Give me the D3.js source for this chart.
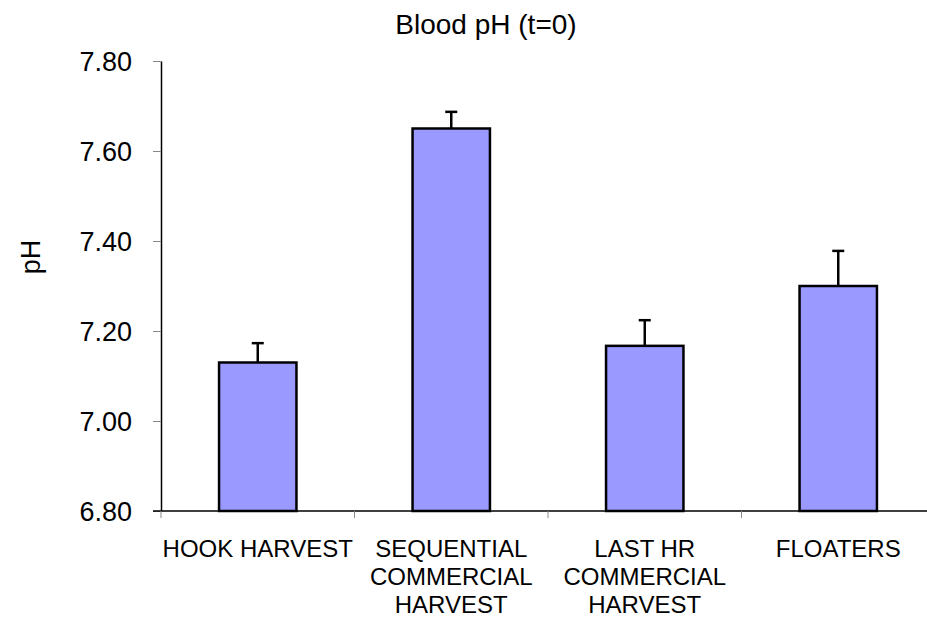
<!DOCTYPE html>
<html>
<head>
<meta charset="utf-8">
<script src="https://cdn.jsdelivr.net/npm/d3@7"></script>
<style>
  body { margin: 0; background: #fff; }
  text { font-family: "Liberation Sans", Arial, sans-serif; fill: #000; }
</style>
</head>
<body>
<div id="chart"></div>
<script>
const categories = ["HOOK HARVEST", "SEQUENTIAL COMMERCIAL HARVEST", "LAST HR COMMERCIAL HARVEST", "FLOATERS"];
const labelLines = [["HOOK HARVEST"], ["SEQUENTIAL", "COMMERCIAL", "HARVEST"], ["LAST HR", "COMMERCIAL", "HARVEST"], ["FLOATERS"]];
const phValues = [7.13, 7.65, 7.167, 7.30];
const phErrors = [0.043, 0.037, 0.057, 0.078];
const yTicks = [6.8, 7.0, 7.2, 7.4, 7.6, 7.8];

const width = 927, height = 619;
const margin = ({top: 61, right: -8, bottom: 108, left: 161});

const svg = d3.select("#chart")
              .append("svg")
              .attr("width", width)
              .attr("height", height);

const xScale = d3.scaleBand()
                 .domain(categories)
                 .range([margin.left, width - margin.right])
                 .paddingInner(0.6)
                 .paddingOuter(0.3);
const yScale = d3.scaleLinear()
                 .domain([6.8, 7.8])
                 .range([height - margin.bottom, margin.top]);

const data = categories.map((c, i) => ({cat: c, value: phValues[i], err: phErrors[i], lines: labelLines[i]}));

// y axis
const drawY = svg.append("g")
                 .attr("transform", `translate(${margin.left},0)`)
                 .call(d3.axisLeft(yScale)
                         .tickValues(yTicks)
                         .tickFormat(d3.format(".2f"))
                         .tickSize(8)
                         .tickSizeOuter(0)
                         .tickPadding(21));
drawY.select(".domain").attr("stroke", "#000").attr("stroke-width", 1.5);
drawY.selectAll(".tick line").attr("stroke", "#888");
drawY.selectAll(".tick text")
     .style("font-size", "27px")
     .attr("dy", "0.36em");

// x axis line and category boundary ticks
const baseY = yScale(6.8);
svg.append("line")
   .attr("x1", margin.left - 8)
   .attr("x2", width - margin.right)
   .attr("y1", baseY)
   .attr("y2", baseY)
   .attr("stroke", "#000")
   .attr("stroke-width", 1.5);
const step = xScale.step();
svg.selectAll("line.xtick")
   .data(d3.range(categories.length + 1))
   .enter()
   .append("line")
   .attr("class", "xtick")
   .attr("x1", i => margin.left + i * step)
   .attr("x2", i => margin.left + i * step)
   .attr("y1", baseY)
   .attr("y2", baseY + 7)
   .attr("stroke", "#888");

// bars
svg.selectAll("rect.bar")
   .data(data)
   .enter()
   .append("rect")
   .attr("class", "bar")
   .attr("x", d => xScale(d.cat))
   .attr("y", d => yScale(d.value))
   .attr("width", xScale.bandwidth())
   .attr("height", d => baseY - yScale(d.value))
   .attr("fill", "#9999ff")
   .attr("stroke", "#000")
   .attr("stroke-width", 2.5);

// error bars (upper only)
const err = svg.selectAll("g.err")
               .data(data)
               .enter()
               .append("g")
               .attr("class", "err");
err.append("line")
   .attr("x1", d => xScale(d.cat) + xScale.bandwidth() / 2)
   .attr("x2", d => xScale(d.cat) + xScale.bandwidth() / 2)
   .attr("y1", d => yScale(d.value))
   .attr("y2", d => yScale(d.value + d.err))
   .attr("stroke", "#000")
   .attr("stroke-width", 2.5);
err.append("line")
   .attr("x1", d => xScale(d.cat) + xScale.bandwidth() / 2 - 6)
   .attr("x2", d => xScale(d.cat) + xScale.bandwidth() / 2 + 6)
   .attr("y1", d => yScale(d.value + d.err))
   .attr("y2", d => yScale(d.value + d.err))
   .attr("stroke", "#000")
   .attr("stroke-width", 2.5);

// category labels
const labels = svg.selectAll("text.cat")
                  .data(data)
                  .enter()
                  .append("text")
                  .attr("class", "cat")
                  .attr("text-anchor", "middle")
                  .style("font-size", "24px");
labels.selectAll("tspan")
      .data(d => d.lines.map(l => ({l, x: xScale(d.cat) + xScale.bandwidth() / 2})))
      .enter()
      .append("tspan")
      .attr("x", d => d.x)
      .attr("y", (d, i) => 557 + i * 28)
      .text(d => d.l);

// title
svg.append("text")
   .attr("x", 486)
   .attr("y", 34)
   .attr("text-anchor", "middle")
   .style("font-size", "28px")
   .text("Blood pH (t=0)");

// y label
svg.append("text")
   .attr("transform", "translate(40,257) rotate(-90)")
   .attr("text-anchor", "middle")
   .style("font-size", "27px")
   .text("pH");
</script>
</body>
</html>
